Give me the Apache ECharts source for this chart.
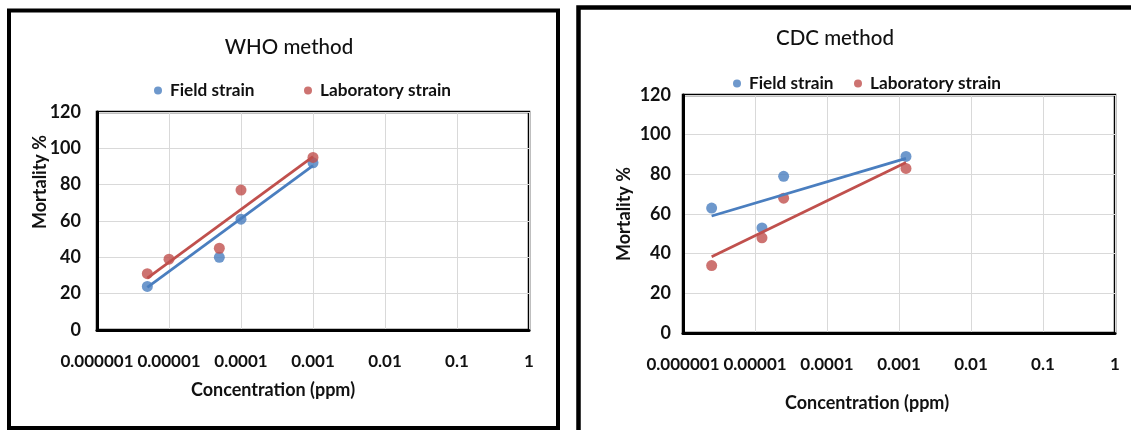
<!DOCTYPE html>
<html><head><meta charset="utf-8">
<script src="https://cdn.jsdelivr.net/npm/echarts@6/dist/echarts.min.js"></script>
<style>html,body{margin:0;padding:0;background:#fff}#c{width:1131px;height:430px}</style>
</head><body><div id="c"></div>
<script>
const tickLabels = ['0.000001','0.00001','0.0001','0.001','0.01','0.1','1'];
const yTicks = [0, 20, 40, 60, 80, 100, 120];
const seriesNames = ['Field strain', 'Laboratory strain'];
const chartTitles = ['WHO method', 'CDC method'];

const whoField = [[5e-6, 24], [5e-5, 40], [1e-4, 61], [1e-3, 92]];
const whoLab = [[5e-6, 31], [1e-5, 39], [5e-5, 45], [1e-4, 77], [1e-3, 95]];
const whoFieldTrend = [[5e-6, 23.5], [1e-3, 90.5]];
const whoLabTrend = [[5e-6, 28.5], [1e-3, 95.5]];

const cdcField = [[2.5e-6, 63], [1.25e-5, 53], [2.5e-5, 79], [1.25e-3, 89]];
const cdcLab = [[2.5e-6, 34], [1.25e-5, 48], [2.5e-5, 68], [1.25e-3, 83]];
const cdcFieldTrend = [[2.5e-6, 59], [1.25e-3, 88]];
const cdcLabTrend = [[2.5e-6, 38.5], [1.25e-3, 86]];

const FONT = 'Lato, sans-serif';
const BLUE = '#4a7ebf';
const RED = '#c0504d';

const chart = echarts.init(document.getElementById('c'));

function xAxis(gridIndex, nameGap, namePad) {
  return {
    type: 'log', logBase: 10, gridIndex,
    min: Math.pow(10, -(tickLabels.length - 1)), max: 1, splitNumber: 6,
    name: 'Concentration (ppm)', nameLocation: 'middle', nameGap, nameMoveOverlap: false,
    nameTextStyle: { fontFamily: FONT, fontSize: 18, fontWeight: 'bold', color: '#111', padding: namePad },
    axisLine: { show: true, lineStyle: { color: '#000', width: 3 } },
    axisTick: { show: false },
    minorTick: { show: false },
    axisLabel: {
      fontFamily: FONT, fontSize: 17, fontWeight: 'bold', color: '#111', margin: 23,
      hideOverlap: false,
      formatter: v => tickLabels[Math.round(Math.log10(v)) + tickLabels.length - 1]
    },
    splitLine: { show: true, lineStyle: { color: '#d9d9d9', width: 1 } }
  };
}
function yAxis(gridIndex, nameGap, margin, namePad) {
  return {
    type: 'value', gridIndex, min: yTicks[0], max: yTicks[yTicks.length - 1], interval: yTicks[1] - yTicks[0],
    name: 'Mortality %', nameLocation: 'middle', nameGap, nameRotate: 90, nameMoveOverlap: false,
    nameTextStyle: { fontFamily: FONT, fontSize: 18, fontWeight: 'bold', color: '#111', padding: namePad },
    axisLine: { show: true, lineStyle: { color: '#000', width: 3 } },
    axisTick: { show: false },
    axisLabel: { fontFamily: FONT, fontSize: 18, fontWeight: 'bold', color: '#111', margin },
    splitLine: { show: true, lineStyle: { color: '#d9d9d9', width: 1 } }
  };
}
function scatter(name, data, color, xi, z) {
  return { type: 'scatter', name, data, xAxisIndex: xi, yAxisIndex: xi, symbol: 'circle', symbolSize: 11,
           itemStyle: { color }, z };
}
function trend(name, data, color, xi, z) {
  return { type: 'line', name: name + ' trend', data, xAxisIndex: xi, yAxisIndex: xi, symbol: 'none',
           lineStyle: { color, width: 2.8 }, z };
}
function legend(name, left, top, color) {
  return { data: [{ name, itemStyle: { color } }], left, top, icon: 'circle', itemWidth: 8, itemHeight: 8,
           textStyle: { fontFamily: FONT, fontSize: 17.2, fontWeight: 'bold', color: '#111', padding: [0, 0, 0, 3] } };
}

chart.setOption({
  backgroundColor: '#fff',
  animation: false,
  title: [
    { text: chartTitles[0], left: 284, top: 32, textAlign: 'center',
      textStyle: { fontFamily: FONT, fontSize: 20.5, fontWeight: 500, color: '#111' } },
    { text: chartTitles[1], left: 830, top: 23, textAlign: 'center',
      textStyle: { fontFamily: FONT, fontSize: 20.5, fontWeight: 500, color: '#111' } }
  ],
  legend: [
    legend(seriesNames[0], 149, 77, BLUE),
    legend(seriesNames[1], 299, 77, RED),
    legend(seriesNames[0], 728, 70, BLUE),
    legend(seriesNames[1], 849, 70, RED)
  ],
  grid: [
    { left: 97, top: 112, width: 432, height: 218, show: true, borderColor: '#000', borderWidth: 2.5, containLabel: false },
    { left: 683, top: 95, width: 432, height: 238, show: true, borderColor: '#000', borderWidth: 2.5, containLabel: false }
  ],
  xAxis: [xAxis(0, 51, [0, 80, 0, 0]), xAxis(1, 61, [0, 64, 0, 0])],
  yAxis: [yAxis(0, 48, 16, [0, 0, 0, 78]), yAxis(1, 50, 12, [0, 0, 0, 0])],
  series: [
    scatter(seriesNames[0], whoField, BLUE, 0, 2),
    scatter(seriesNames[1], whoLab, RED, 0, 3),
    trend(seriesNames[0], whoFieldTrend, BLUE, 0, 4),
    trend(seriesNames[1], whoLabTrend, RED, 0, 5),
    scatter(seriesNames[0], cdcField, BLUE, 1, 2),
    scatter(seriesNames[1], cdcLab, RED, 1, 3),
    trend(seriesNames[0], cdcFieldTrend, BLUE, 1, 4),
    trend(seriesNames[1], cdcLabTrend, RED, 1, 5)
  ],
  graphic: [
    { type: 'rect', shape: { x: 9, y: 10.5, width: 549, height: 417.5 }, style: { fill: null, stroke: '#000', lineWidth: 4 }, z: 100 },
    { type: 'rect', shape: { x: 578.5, y: 7.5, width: 600, height: 450 }, style: { fill: null, stroke: '#000', lineWidth: 4.5 }, z: 100 }
  ]
});
</script></body></html>
